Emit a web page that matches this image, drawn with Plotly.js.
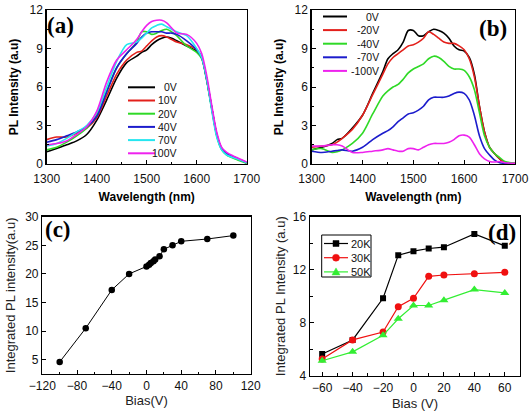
<!DOCTYPE html>
<html>
<head>
<meta charset="utf-8">
<script src="https://cdn.plot.ly/plotly-3.0.1.min.js"></script>
<style>html,body{margin:0;padding:0;background:#fff;}#chart{width:530px;height:411px;}</style>
</head>
<body>
<div id="chart"></div>
<script>
// ---- (a) PL spectra under forward bias ----
const wlA = [1300,1320,1340,1360,1380,1400,1420,1440,1460,1480,1490,1500,1510,1520,1530,1540,1550,1560,1580,1600,1610,1620,1630,1640,1650,1660,1680,1700];
const namesA = ['0V','10V','20V','40V','70V','100V'];
const a0V   = [0.95,1.2,1.5,1.8,2.3,3.4,5.0,6.7,7.9,8.4,8.7,8.9,9.3,9.6,9.8,9.9,9.8,9.6,9.2,8.8,8.3,6.6,4.4,2.3,1.2,0.8,0.45,0.1];
const a10V  = [1.9,2.1,2.1,2.4,2.8,3.6,5.3,7.0,8.1,8.7,8.8,9.2,9.6,9.9,10.0,9.9,9.7,9.5,9.3,8.9,8.3,6.6,4.4,2.3,1.2,0.8,0.45,0.1];
const a20V  = [1.1,1.3,1.7,2.2,2.8,3.8,5.7,7.5,8.6,9.5,10.3,10.3,10.1,10.2,10.4,10.5,10.3,10.0,9.2,8.7,8.2,6.5,4.3,2.2,1.1,0.7,0.35,0.05];
const a40V  = [1.7,1.9,2.2,2.5,2.9,3.7,5.6,7.5,8.6,9.4,9.9,10.2,10.3,10.3,10.3,10.2,10.2,10.1,9.6,8.9,8.3,6.6,4.4,2.3,1.2,0.8,0.45,0.1];
const a70V  = [1.4,1.6,2.0,2.5,3.0,4.0,6.0,8.0,9.3,9.5,9.8,10.2,10.6,10.8,10.9,10.7,10.5,10.3,10.0,9.0,8.3,6.6,4.2,2.1,1.1,0.7,0.4,0.1];
const a100V = [1.5,1.6,1.8,2.3,2.9,4.1,6.4,8.1,8.9,9.7,10.3,10.8,11.1,11.2,11.2,11.0,10.6,10.2,10.1,9.4,8.6,6.9,4.6,2.5,1.3,0.9,0.5,0.15];

// ---- (b) PL spectra under reverse bias ----
const wlB = [1300,1320,1340,1350,1360,1380,1400,1420,1440,1450,1460,1470,1480,1490,1500,1510,1520,1530,1540,1550,1560,1570,1580,1590,1600,1610,1620,1630,1640,1650,1660,1670,1680,1700];
const namesB = ['0V','-20V','-40V','-70V','-100V'];
const b0V    = [1.1,1.3,1.6,1.9,2.0,2.8,3.8,5.5,7.2,8.2,8.6,8.9,9.5,10.4,10.4,10.0,10.0,10.3,10.5,10.4,10.2,9.8,9.2,8.9,8.8,8.3,7.0,4.5,2.5,1.3,0.8,0.4,0.1,0.05];
const bM20V  = [1.3,1.4,1.5,1.7,2.0,2.7,3.8,5.4,7.0,7.8,8.3,8.6,8.9,9.2,9.3,9.5,9.8,10.3,10.1,9.8,9.5,9.4,9.4,9.2,8.9,8.2,6.8,4.5,2.5,1.3,0.8,0.4,0.1,0.05];
const bM40V  = [1.1,1.2,0.9,0.95,1.1,1.6,2.4,3.9,5.3,5.7,6.0,6.2,6.6,7.1,7.4,7.6,7.8,8.2,8.4,8.3,8.0,7.6,7.4,7.4,7.3,6.8,5.8,4.0,2.2,1.3,0.8,0.5,0.2,0.05];
const bM70V  = [1.0,0.9,1.0,1.05,1.1,1.0,1.3,1.9,2.4,2.6,2.9,3.3,3.6,3.9,4.0,4.2,4.5,5.0,5.2,5.2,5.2,5.3,5.5,5.6,5.5,5.0,3.8,2.2,1.2,0.7,0.3,0.1,0.05,0.0];
const bM100V = [1.4,1.4,1.5,1.5,1.4,0.9,0.9,1.0,1.1,1.2,1.1,1.0,1.0,1.2,1.2,1.1,1.3,1.5,1.6,1.6,1.6,1.7,1.9,2.2,2.25,2.1,1.5,0.8,0.4,0.2,0.15,0.2,0.1,0.05];

// ---- (c) integrated PL vs bias ----
const biasC = [-100,-70,-40,-20,0,3,5,8,10,15,20,30,40,70,100];
const intC  = [4.6,10.5,17.2,20.0,21.3,21.6,21.9,22.2,22.5,23.1,24.3,25.0,25.7,26.1,26.7];

// ---- (d) integrated PL vs bias at three temperatures ----
const biasD = [-60,-40,-20,-10,0,10,20,40,60];
const namesD = ['20K','30K','50K'];
const d20K = [5.64,6.7,9.84,13.1,13.4,13.6,13.7,14.7,13.8];
const d30K = [5.26,6.7,7.3,9.2,9.84,11.5,11.6,11.7,11.8];
const d50K = [5.13,5.8,7.05,8.3,9.3,9.3,9.7,10.5,10.25];

const colA = ['#000000','#e3201b','#2fd926','#1c1ccc','#25e6f0','#ee22ee'];
const colB = ['#000000','#e3201b','#2fd926','#1c1ccc','#ee22ee'];
const colD = ['#000000','#f01010','#33ee33'];
const symD = ['square','circle','triangle-up'];

const W = 530, H = 411;
const px = x => x / W;          // pixel -> paper x
const py = y => 1 - y / H;      // pixel -> paper y

const traces = [];
[a0V,a10V,a20V,a40V,a70V,a100V].forEach((ys,i) => traces.push({
  x: wlA, y: ys, xaxis:'x', yaxis:'y', type:'scatter', mode:'lines', name:namesA[i],
  line:{color:colA[i], width:1.6, shape:'spline', smoothing:0.8}, showlegend:false
}));
[b0V,bM20V,bM40V,bM70V,bM100V].forEach((ys,i) => traces.push({
  x: wlB, y: ys, xaxis:'x2', yaxis:'y2', type:'scatter', mode:'lines', name:namesB[i],
  line:{color:colB[i], width:1.6, shape:'spline', smoothing:0.8}, showlegend:false
}));
traces.push({
  x: biasC, y: intC, xaxis:'x3', yaxis:'y3', type:'scatter', mode:'lines+markers',
  line:{color:'#000', width:1}, marker:{color:'#000', size:6.5, symbol:'circle'}, showlegend:false
});
[d20K,d30K,d50K].forEach((ys,i) => traces.push({
  x: biasD, y: ys, xaxis:'x4', yaxis:'y4', type:'scatter', mode:'lines+markers', name:namesD[i],
  line:{color:colD[i], width:1.2}, marker:{color:colD[i], size:i===2?8:(i===1?7:6), symbol:symD[i]}, showlegend:false
}));

const tickFont = {family:'Liberation Sans, Arial, sans-serif', size:12, color:'#111'};
const boldTitle = t => ({text:t, font:{family:'Liberation Sans, Arial, sans-serif', size:12, color:'#000', weight:'bold'}, standoff:8});
const plainTitle = (t, s) => ({text:t, font:{family:'Liberation Sans, Arial, sans-serif', size:13, color:'#222'}, standoff:s});

function ax(extra){
  return Object.assign({
    showline:true, mirror:true, linecolor:'#000', linewidth:1.4,
    showgrid:false, zeroline:false, ticks:'inside', ticklen:4, tickwidth:1, tickcolor:'#000',
    tickfont:tickFont, automargin:false
  }, extra);
}

const layout = {
  width:W, height:H, margin:{l:0,r:0,t:0,b:0}, paper_bgcolor:'#fff', plot_bgcolor:'#fff',
  showlegend:false,
  xaxis: ax({domain:[px(46.7),px(246.7)], range:[1300,1700], dtick:100, tick0:1300, anchor:'y', ticklabelstandoff:3,
             minor:{dtick:50, ticks:'inside', ticklen:2.5, tickcolor:'#000'}, title:boldTitle('Wavelength (nm)')}),
  yaxis: ax({domain:[py(164),py(10)], range:[0,12], dtick:3, anchor:'x',
             minor:{dtick:1.5, ticks:'inside', ticklen:2.5, tickcolor:'#000'}, title:boldTitle('PL Intensity (a.u)')}),
  xaxis2: ax({domain:[px(311.7),px(515)], range:[1300,1700], dtick:100, tick0:1300, anchor:'y2', ticklabelstandoff:3,
             minor:{dtick:50, ticks:'inside', ticklen:2.5, tickcolor:'#000'}, title:boldTitle('Wavelength (nm)')}),
  yaxis2: ax({domain:[py(164),py(10)], range:[0,12], dtick:3, anchor:'x2',
             minor:{dtick:1.5, ticks:'inside', ticklen:2.5, tickcolor:'#000'}, title:boldTitle('PL Intensity (a.u)')}),
  xaxis3: ax({domain:[px(42.3),px(250.7)], range:[-120,120], dtick:40, tick0:-120, anchor:'y3',
             minor:{dtick:20, ticks:'inside', ticklen:2.5, tickcolor:'#000'}, title:plainTitle('Bias(V)', 0)}),
  yaxis3: ax({domain:[py(374),py(216.7)], range:[2.5,30], dtick:5, tick0:0, anchor:'x3',
             title:plainTitle('Integrated PL intensity(a.u)', 6)}),
  xaxis4: ax({domain:[px(310),px(520)], range:[-68,70], dtick:20, tick0:-60, anchor:'y4',
             minor:{dtick:10, ticks:'inside', ticklen:2.5, tickcolor:'#000'}, title:plainTitle('Bias (V)', 6)}),
  yaxis4: ax({domain:[py(375.7),py(216.7)], range:[4,16], dtick:4, anchor:'x4',
             minor:{dtick:2, ticks:'inside', ticklen:2.5, tickcolor:'#000'}, title:plainTitle('Integrated PL Intensity (a.u)', 4)}),
  shapes: [], annotations: []
};

// panel letters
const letterFont = {family:'Liberation Serif, Times New Roman, serif', size:23, color:'#000', weight:'bold'};
[['(a)',60,25],['(b)',493,28],['(c)',58,229],['(d)',502,232]].forEach(([t,x,y]) =>
  layout.annotations.push({text:t, xref:'paper', yref:'paper', x:px(x), y:py(y), xanchor:'center', yanchor:'middle',
    showarrow:false, font:letterFont}));

// key for a spectral panel: line sample then right-aligned label
const keyFont = {family:'Liberation Sans, Arial, sans-serif', size:10.5, color:'#111'};
function lineKey(names, colors, x0, x1, xText, yStart, dy){
  names.forEach((n,i) => {
    const y = yStart + i*dy;
    layout.shapes.push({type:'line', xref:'paper', yref:'paper', x0:px(x0), x1:px(x1), y0:py(y), y1:py(y),
      line:{color:colors[i], width:2}});
    layout.annotations.push({text:n, xref:'paper', yref:'paper', x:px(xText), y:py(y), xanchor:'right', yanchor:'middle',
      showarrow:false, font:keyFont});
  });
}
lineKey(namesA, colA, 128, 155, 179, 87.3, 13.2);
lineKey(namesB, colB, 323, 347, 381, 16.5, 13.6);

// boxed key for panel (d): line, marker, label
layout.shapes.push({type:'rect', xref:'paper', yref:'paper', x0:px(321.7), x1:px(371), y0:py(277), y1:py(235),
  line:{color:'#000', width:1}, fillcolor:'rgba(0,0,0,0)'});
namesD.forEach((n,i) => {
  const y = 243.5 + i*14.2, xc = 336;
  layout.shapes.push({type:'line', xref:'paper', yref:'paper', x0:px(324), x1:px(348), y0:py(y), y1:py(y),
    line:{color:colD[i], width:1.2}});
  const base = {xref:'paper', yref:'paper', xsizemode:'pixel', ysizemode:'pixel', xanchor:px(xc), yanchor:py(y),
    fillcolor:colD[i], line:{color:colD[i], width:0.5}};
  if (symD[i] === 'square') layout.shapes.push(Object.assign({type:'rect', x0:-3, x1:3, y0:-3, y1:3}, base));
  else if (symD[i] === 'circle') layout.shapes.push(Object.assign({type:'circle', x0:-3.5, x1:3.5, y0:-3.5, y1:3.5}, base));
  else layout.shapes.push(Object.assign({type:'path', path:'M -4,-3 L 4,-3 L 0,4 Z'}, base));
  layout.annotations.push({text:n, xref:'paper', yref:'paper', x:px(349), y:py(y), xanchor:'left', yanchor:'middle',
    showarrow:false, font:{family:'Liberation Sans, Arial, sans-serif', size:11, color:'#111'}});
});

Plotly.newPlot('chart', traces, layout, {staticPlot:true, displayModeBar:false});
</script>
</body>
</html>
